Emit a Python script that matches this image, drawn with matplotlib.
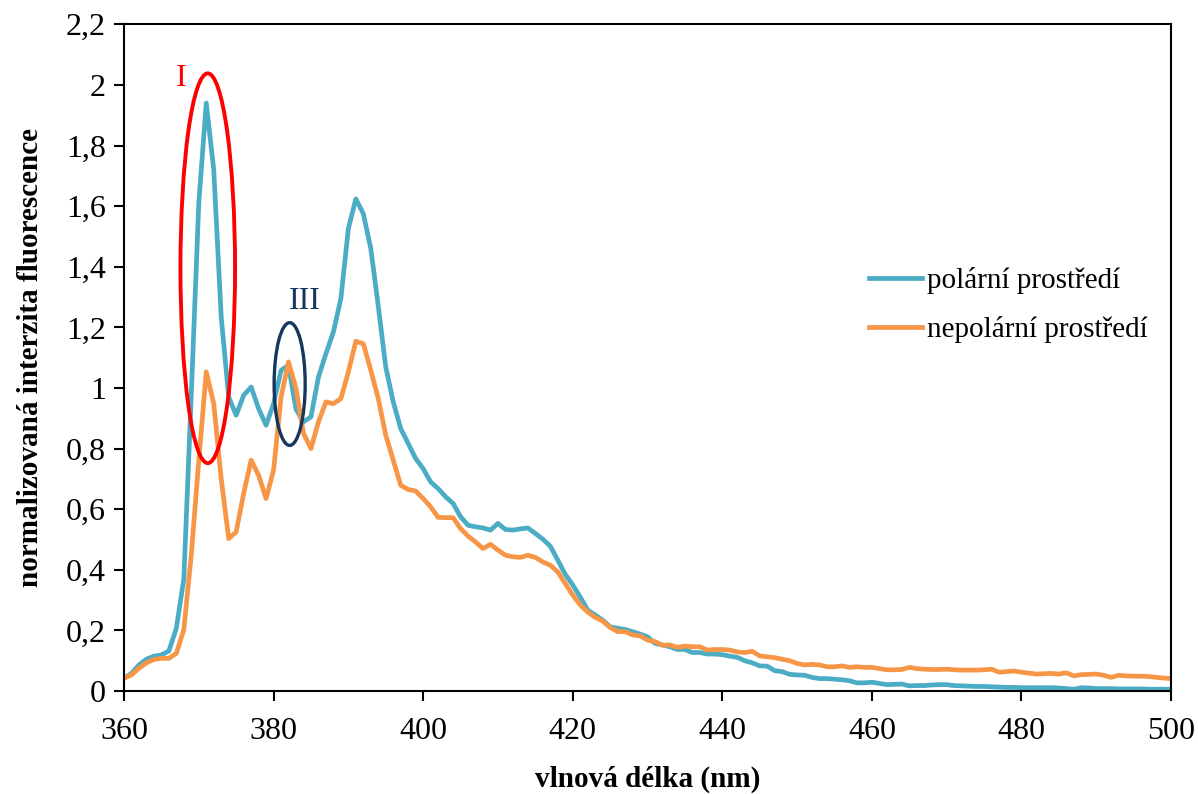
import matplotlib
matplotlib.use('Agg')
import matplotlib.pyplot as plt
from matplotlib.patches import Ellipse
from matplotlib.ticker import FuncFormatter
import numpy as np

plt.rcParams['font.family'] = ['Liberation Serif', 'DejaVu Serif']

wavelength = np.arange(360, 501)

polarni = [
    0.042, 0.058, 0.086, 0.105, 0.115, 0.119, 0.132, 0.207, 0.37, 0.98,
    1.61, 1.94, 1.72, 1.234, 0.97, 0.91, 0.976, 1.003, 0.932, 0.877,
    0.948, 1.058, 1.075, 0.93, 0.888, 0.905, 1.036, 1.113, 1.185, 1.295,
    1.526, 1.624, 1.575, 1.46, 1.27, 1.069, 0.954, 0.866, 0.817, 0.767,
    0.734, 0.69, 0.668, 0.641, 0.619, 0.575, 0.547, 0.542, 0.538, 0.531,
    0.553, 0.533, 0.531, 0.535, 0.538, 0.52, 0.501, 0.478, 0.432, 0.385,
    0.35, 0.31, 0.267, 0.251, 0.234, 0.212, 0.207, 0.203, 0.196, 0.188,
    0.179, 0.157, 0.152, 0.146, 0.137, 0.137, 0.127, 0.127, 0.122, 0.122,
    0.12, 0.115, 0.111, 0.10, 0.093, 0.083, 0.082, 0.067, 0.064, 0.055,
    0.053, 0.052, 0.045, 0.041, 0.041, 0.039, 0.037, 0.034, 0.027, 0.027,
    0.029, 0.025, 0.021, 0.022, 0.023, 0.017, 0.018, 0.018, 0.02, 0.021,
    0.021, 0.018, 0.017, 0.016, 0.015, 0.015, 0.014, 0.013, 0.012, 0.012,
    0.011, 0.011, 0.011, 0.011, 0.011, 0.01, 0.008, 0.006, 0.011, 0.01,
    0.008, 0.008, 0.008, 0.007, 0.007, 0.007, 0.007, 0.006, 0.006, 0.006,
    0.006,
]

nepolarni = [
    0.042, 0.053, 0.075, 0.093, 0.104, 0.108, 0.108, 0.124, 0.203, 0.45,
    0.76, 1.053, 0.948, 0.70, 0.503, 0.525, 0.652, 0.762, 0.712, 0.635,
    0.729, 0.97, 1.086, 0.998, 0.85, 0.80, 0.888, 0.954, 0.948, 0.965,
    1.053, 1.154, 1.146, 1.058, 0.965, 0.844, 0.762, 0.679, 0.665, 0.66,
    0.635, 0.608, 0.573, 0.572, 0.572, 0.536, 0.511, 0.492, 0.47, 0.484,
    0.465, 0.448, 0.443, 0.441, 0.448, 0.441, 0.426, 0.415, 0.393, 0.355,
    0.317, 0.284, 0.261, 0.243, 0.231, 0.21, 0.196, 0.196, 0.185, 0.182,
    0.168, 0.163, 0.151, 0.152, 0.144, 0.148, 0.146, 0.146, 0.135, 0.137,
    0.137, 0.135, 0.129, 0.127, 0.131, 0.116, 0.113, 0.11, 0.105, 0.10,
    0.091, 0.086, 0.088, 0.086, 0.08, 0.08, 0.083, 0.078, 0.08, 0.078,
    0.078, 0.074, 0.07, 0.07, 0.071, 0.078, 0.074, 0.072, 0.071, 0.071,
    0.072, 0.07, 0.069, 0.069, 0.069, 0.07, 0.072, 0.062, 0.064, 0.066,
    0.062, 0.059, 0.056, 0.057, 0.058, 0.056, 0.06, 0.05, 0.054, 0.055,
    0.056, 0.052, 0.045, 0.052, 0.05, 0.049, 0.049, 0.048, 0.045, 0.043,
    0.041,
]

fig = plt.figure(figsize=(11.98, 7.94), dpi=100)
ax = fig.add_axes([0.1035, 0.1297, 0.874, 0.8397])

ax.plot(wavelength, polarni, color='#4BACC6', lw=3.4, label='polární prostředí')
ax.plot(wavelength, nepolarni, color='#F79646', lw=3.4, label='nepolární prostředí')

# vyznaceni pasu
ax.add_patch(Ellipse((371.2, 1.395), 7.3, 1.286, fill=False, ec='#FF0000', lw=2.8, zorder=5))
ax.add_patch(Ellipse((382.15, 1.013), 4.15, 0.405, fill=False, ec='#17365D', lw=2.4, zorder=5))
ax.text(367.6, 2.02, 'I', color='#FF0000', fontsize=23, ha='center', va='center')
ax.text(384.2, 1.285, 'III', color='#17365D', fontsize=23, ha='center', va='center')

ax.set_xlim(360, 500)
ax.set_ylim(0, 2.2)
ax.set_xticks(np.arange(360, 501, 20))
ax.set_yticks(np.arange(0, 2.21, 0.2))
ax.yaxis.set_major_formatter(FuncFormatter(lambda v, p: ('%g' % round(v, 1)).replace('.', ',')))

ax.tick_params(direction='out', length=7, width=1.5, labelsize=23, pad=6)
ax.tick_params(axis='x', pad=12)
for s in ax.spines.values():
    s.set_linewidth(1.5)

ax.set_xlabel('vlnová délka (nm)', fontsize=21, fontweight='bold', labelpad=14)
ax.set_ylabel('normalizovaná interzita fluorescence', fontsize=21, fontweight='bold', labelpad=16)

ax.legend(loc='center left', bbox_to_anchor=(0.686, 0.579), frameon=False, fontsize=21,
          handlelength=1.85, handletextpad=0.17, labelspacing=0.75)

fig.savefig('out.png', dpi=100)
